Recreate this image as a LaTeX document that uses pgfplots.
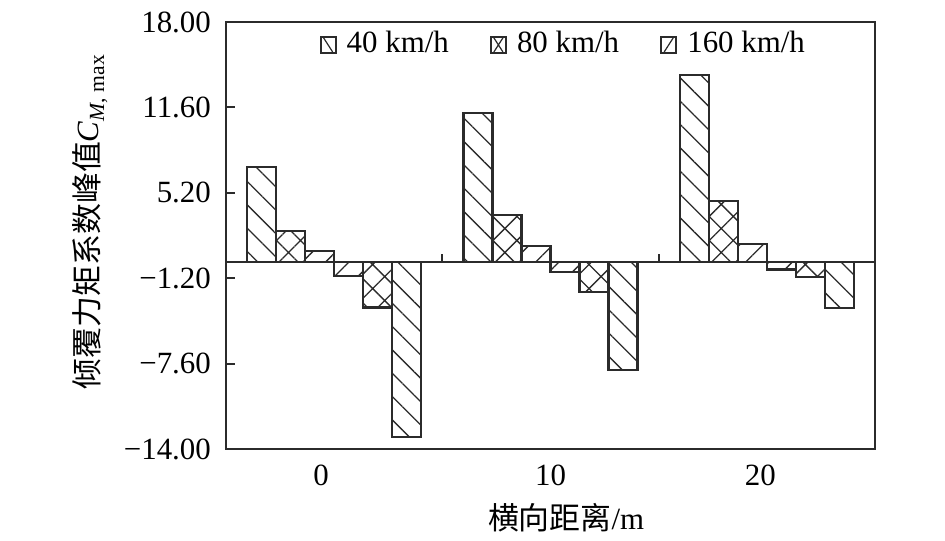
\documentclass[border=0pt]{standalone}
\usepackage{fontspec}
\setmainfont{Liberation Serif}
\newfontfamily\cjk{Noto Sans CJK SC}
\usepackage{pgfplots}
\pgfplotsset{compat=1.18}
\usetikzlibrary{patterns.meta}
\definecolor{ink}{HTML}{2B2B2B}
\tikzset{
  pdiag/.style={pattern={Lines[angle=-45,distance=16.5bp,line width=1.3bp]},pattern color=ink},
  pcross/.style={pattern={Hatch[angle=45,distance=17bp,line width=1.3bp]},pattern color=ink},
  padiag/.style={pattern={Lines[angle=45,distance=16.5bp,line width=1.3bp]},pattern color=ink},
}
\newcommand{\fs}{\fontsize{31}{36}\selectfont}
\begin{document}
\begin{tikzpicture}
\useasboundingbox (0,0) rectangle (945bp,541bp);
\begin{axis}[
  at={(226bp,92bp)}, anchor=south west,
  scale only axis, width=649bp, height=427bp,
  xmin=-0.5, xmax=2.5, ymin=-14, ymax=18,
  ybar, bar width=29bp,
  axis line style={line width=2.2bp, draw=ink},
  xtick={-0.06,1,1.97}, xticklabels={0,10,20},
  xtick style={draw=none},
  ytick={-14,-7.6,-1.2,5.2,11.6,18},
  yticklabels={−14.00,−7.60,−1.20,5.20,11.60,18.00},
  ytick pos=left, tick align=inside, major tick length=9bp,
  ytick style={line width=2bp, draw=ink},
  every tick label/.append style={font=\fs, inner sep=0pt, text=black},
  yticklabel shift=15bp, xticklabel shift=16bp,
  xlabel={{\cjk 横向距离}/m},
  xlabel style={at={(axis description cs:0.524,0)}, anchor=center, yshift=-69bp, font=\fs},
  ylabel={{\cjk 倾覆力矩系数峰值}\textit{C}\textsubscript{\textit{M}, max}},
  ylabel style={at={(axis description cs:-0.2096,0.532)}, anchor=center, font=\fs},
  legend columns=3,
  legend style={at={(axis description cs:0.518,0.951)}, anchor=center, draw=none, fill=none,
    font=\fs, inner sep=0pt, nodes={inner sep=0pt},
    /tikz/every odd column/.append style={column sep=10bp},
    /tikz/every even column/.append style={column sep=41bp}},
  legend entries={40 km/h,80 km/h,160 km/h},
  every axis plot/.append style={draw=ink, line width=2.4bp},
]
% positive peaks
\addplot[pdiag, bar shift=-72.5bp,
  legend image code/.code={\draw[ink,line width=2.2bp,fill=white] (0bp,-10bp) rectangle (15bp,6bp);
    \draw[ink,line width=1.2bp] (3bp,5bp) -- (12bp,-9bp);}]
  coordinates {(0,7.15) (1,11.2) (2,14.05)};
\addplot[pcross, bar shift=-43.5bp,
  legend image code/.code={\draw[ink,line width=2.2bp,fill=white] (0bp,-10bp) rectangle (15bp,6bp);
    \draw[ink,line width=1.2bp] (3bp,5bp) -- (12bp,-9bp) (12bp,5bp) -- (3bp,-9bp);}]
  coordinates {(0,2.35) (1,3.55) (2,4.6)};
\addplot[padiag, bar shift=-14.5bp,
  legend image code/.code={\draw[ink,line width=2.2bp,fill=white] (0bp,-10bp) rectangle (15bp,6bp);
    \draw[ink,line width=1.2bp] (12bp,5bp) -- (3bp,-9bp);}]
  coordinates {(0,0.85) (1,1.2) (2,1.35)};
% negative peaks
\addplot[padiag, bar shift=14.5bp, forget plot] coordinates {(0,-1.05) (1,-0.75) (2,-0.55)};
\addplot[pcross, bar shift=43.5bp, forget plot] coordinates {(0,-3.4) (1,-2.25) (2,-1.1)};
\addplot[pdiag, bar shift=72.5bp, forget plot] coordinates {(0,-13.1) (1,-8.1) (2,-3.45)};
\draw[ink, line width=2.2bp] (axis cs:-0.5,0) -- (axis cs:2.5,0);
\draw[ink, line width=2bp] (axis cs:0.5,0) -- ([yshift=8bp]axis cs:0.5,0);
\draw[ink, line width=2bp] (axis cs:1.5,0) -- ([yshift=8bp]axis cs:1.5,0);
\end{axis}
\end{tikzpicture}
\end{document}
